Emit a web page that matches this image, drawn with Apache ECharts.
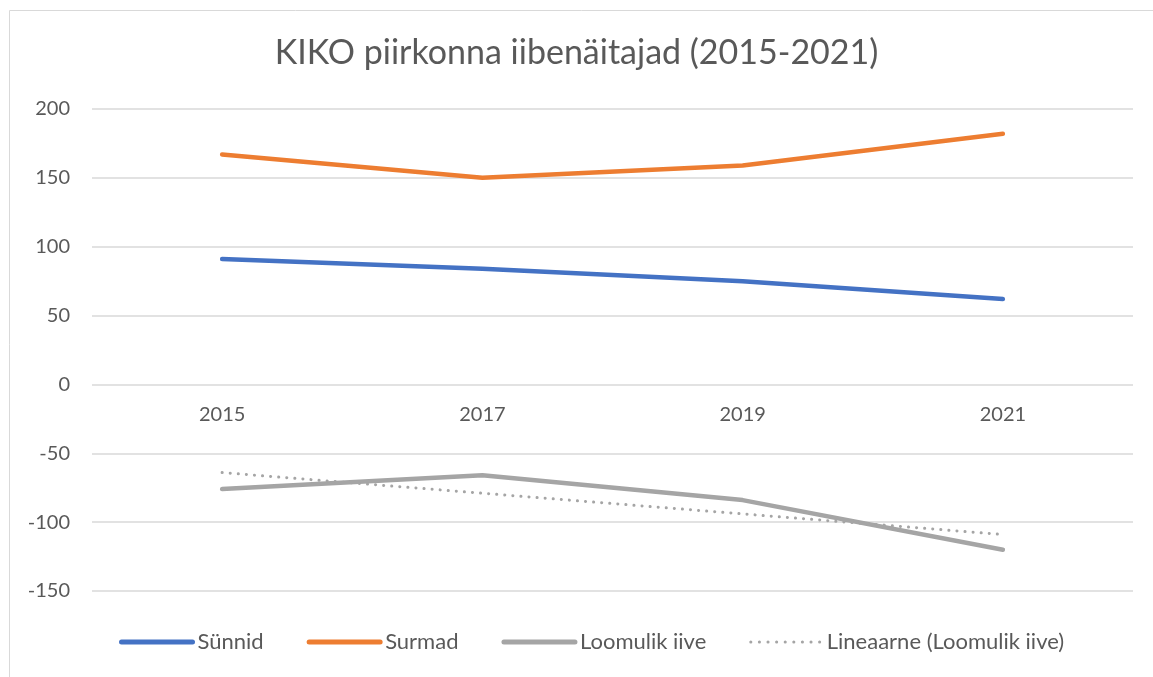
<!DOCTYPE html>
<html><head><meta charset="utf-8">
<script src="https://cdn.jsdelivr.net/npm/echarts@6/dist/echarts.min.js"></script>
<style>html,body{margin:0;padding:0;background:#fff}#c{width:1153px;height:677px}</style>
</head><body><div id="c"></div>
<script>
const titleText = 'KIKO piirkonna iibenäitajad (2015-2021)';
const categories = ['2015', '2017', '2019', '2021'];
const sunnid = [91, 84, 75, 62];
const surmad = [167, 150, 159, 182];
const iive = [-76, -66, -84, -120];
const trend = [-64, -79, -94, -109];
const yTicks = {min: -150, max: 200, interval: 50};

const FONT = 'Lato';
const W = 1153, H = 677;
const gridTop = 109, gridBottom = 86;
// place the category axis at value 0 (Excel style), derived from the y scale
const plotH = H - gridTop - gridBottom;
const zeroOffset = -plotH * (0 - yTicks.min) / (yTicks.max - yTicks.min);

const chart = echarts.init(document.getElementById('c'), null, {renderer: 'canvas'});
chart.setOption({
  animation: false,
  textStyle: {fontFamily: FONT},
  graphic: [{type: 'rect', shape: {x: 9.5, y: 10.5, width: 1200, height: 700}, style: {fill: 'none', stroke: '#d9d9d9', lineWidth: 1}, silent: true}],
  title: {text: titleText, left: 'center', top: 31, textStyle: {fontFamily: FONT, fontSize: 34, fontWeight: 'normal', color: '#595959'}},
  grid: {left: 92, right: 20, top: gridTop, bottom: gridBottom},
  legend: {
    bottom: 19, left: 114, itemWidth: 71, itemHeight: 6, itemGap: 43,
    itemStyle: {opacity: 0},
    textStyle: {fontFamily: FONT, fontSize: 22, color: '#595959', padding: [0, 0, 0, 0]},
    data: [
      {name: 'Sünnid', lineStyle: {width: 5, cap: 'round'}},
      {name: 'Surmad', lineStyle: {width: 5, cap: 'round'}},
      {name: 'Loomulik iive', lineStyle: {width: 5, cap: 'round'}},
      {name: 'Lineaarne (Loomulik iive)', lineStyle: {width: 3, cap: 'round', type: [0.1, 8.5]}}
    ]
  },
  xAxis: {
    type: 'category', data: categories, boundaryGap: true, position: 'bottom', offset: zeroOffset,
    axisLine: {show: false, onZero: false}, axisTick: {show: false},
    axisLabel: {fontFamily: FONT, fontSize: 20, color: '#595959', margin: 20}
  },
  yAxis: {
    type: 'value', min: yTicks.min, max: yTicks.max, interval: yTicks.interval,
    axisLine: {show: false}, axisTick: {show: false},
    axisLabel: {fontFamily: FONT, fontSize: 20, color: '#595959', margin: 22},
    splitLine: {lineStyle: {color: '#d9d9d9', width: 1.5}}
  },
  series: [
    {name: 'Sünnid', type: 'line', data: sunnid, symbol: 'none', lineStyle: {color: '#4472C4', width: 4.5, cap: 'round'}, itemStyle: {color: '#4472C4'}},
    {name: 'Surmad', type: 'line', data: surmad, symbol: 'none', lineStyle: {color: '#ED7D31', width: 4.5, cap: 'round'}, itemStyle: {color: '#ED7D31'}},
    {name: 'Loomulik iive', type: 'line', data: iive, symbol: 'none', lineStyle: {color: '#A5A5A5', width: 4.5, cap: 'round'}, itemStyle: {color: '#A5A5A5'}},
    {name: 'Lineaarne (Loomulik iive)', type: 'line', data: trend, symbol: 'none', lineStyle: {color: '#A5A5A5', width: 3, type: [0.1, 8], cap: 'round'}, itemStyle: {color: '#A5A5A5'}}
  ]
});
</script></body></html>
